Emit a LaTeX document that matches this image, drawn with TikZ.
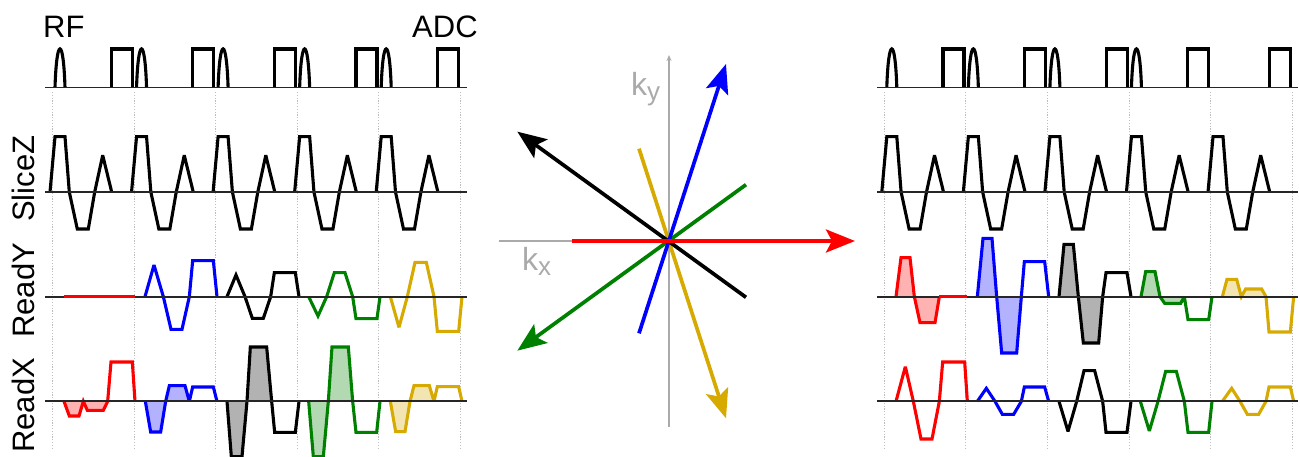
\documentclass[tikz,border=0pt]{standalone}
\usepackage{fontspec}
\setmainfont{Liberation Sans}
\usetikzlibrary{arrows.meta}
\definecolor{wgold}{RGB}{214,170,0}
\definecolor{wgreen}{RGB}{0,128,0}
\definecolor{wblue}{RGB}{0,0,255}
\definecolor{wred}{RGB}{255,0,0}
\definecolor{axisgray}{RGB}{170,170,170}
\definecolor{dotgray}{RGB}{190,190,190}
\tikzset{
  seqline/.style={line width=3.1pt,line join=miter,miter limit=3},
  baseaxis/.style={line width=1.8pt,black!85},
  gridline/.style={line width=0.9pt,dotgray,dash pattern=on 1.2pt off 1.6pt},
  area/.style={opacity=0.3},
  biglabel/.style={inner sep=0pt,font=\fontsize{31}{31}\selectfont},
  kvector/.style={line width=3.7pt,-{Stealth[length=29pt,width=23pt,inset=6pt]}},
  kaxis/.style={line width=1.7pt,axisgray},
  klabel/.style={inner sep=0pt,text=axisgray,font=\fontsize{32}{32}\selectfont},
  zoomL/.style={shift={(0,230)},x=0.33333pt,y=-0.33333pt},
  zoomR/.style={shift={(870,230)},x=0.33333pt,y=-0.33333pt},
  zoomC/.style={shift={(490,40)},x=0.33333pt,y=-0.33333pt},
}
\begin{document}
\begin{tikzpicture}[x=1pt,y=-1pt]
\useasboundingbox (0,0) rectangle (1300,457);
% grids and slice-select blocks
\foreach \p in {0,831.8}{
  \foreach \k in {0,...,5}{
    \draw[gridline] ({52.5+81.6*\k+\p},92) -- ({52.5+81.6*\k+\p},450);
  }
  \foreach \k in {0,...,4}{
    \begin{scope}[shift={({81.55*\k+\p},0)}]
      \draw[seqline] (50,192) -- (55,136.7) -- (65,136.7) -- (69.3,192) -- (77.3,229) -- (88.3,229) -- (94.7,192) -- (102.7,155.3) -- (111.7,192);
    \end{scope}
  }
}
% RF pulses: five on the left, four on the right
\foreach \k in {0,...,4}{
  \draw[seqline] ({55+81.55*\k},87.5) .. controls ({56.6+81.55*\k},36) and ({63.4+81.55*\k},36) .. ({65+81.55*\k},87.5);
}
\foreach \k in {0,...,3}{
  \draw[seqline] ({886.8+81.55*\k},87.5) .. controls ({888.4+81.55*\k},36) and ({895.2+81.55*\k},36) .. ({896.8+81.55*\k},87.5);
}
% ADC boxes
\foreach \s in {111.3,943}{
  \foreach \k in {0,...,4}{
    \draw[seqline] ({\s+81.55*\k},87.5) -- ({\s+81.55*\k},49) -- ({\s+21+81.55*\k},49) -- ({\s+21+81.55*\k},87.5);
  }
}
% Left waveforms
\begin{scope}[zoomL]
\fill[wred,area] (192,514) -- (208,558) -- (237,558) -- (250,514) -- (262,541) -- (310,541) -- (323,514) -- cycle;
\fill[wblue,area] (436,514) -- (452,606) -- (482,606) -- (497,514) -- (508,467) -- (555,467) -- (568,514) -- cycle;
\fill[black,area] (681,514) -- (694,680) -- (726,680) -- (741,514) -- (751,351) -- (800,351) -- (815,514) -- cycle;
\fill[wgreen,area] (926,514) -- (940,680) -- (970,680) -- (985,514) -- (996,351) -- (1045,351) -- (1058,514) -- cycle;
\fill[wgold,area] (1171,514) -- (1187,605) -- (1215,605) -- (1230,514) -- (1242,467) -- (1288,467) -- (1302,514) -- cycle;
\draw[seqline,wblue] (435,200) -- (462,105) -- (490,200) -- (513,298) -- (546,298) -- (568,200) -- (578,92) -- (640,92) -- (651,200);
\draw[seqline,black] (681,200) -- (708,135) -- (735,200) -- (757,265) -- (790,265) -- (812,200) -- (823,128) -- (886,128) -- (897,200);
\draw[seqline,wgreen] (926,200) -- (954,258) -- (980,200) -- (1003,128) -- (1035,128) -- (1058,200) -- (1068,266) -- (1131,266) -- (1140,200);
\draw[seqline,wgold] (1171,200) -- (1197,292) -- (1222,200) -- (1245,97) -- (1279,97) -- (1302,200) -- (1312,304) -- (1376,304) -- (1386,200);
\draw[seqline,wred] (192,514) -- (208,558) -- (237,558) -- (250,514) -- (262,541) -- (310,541) -- (323,514) -- (333,396) -- (397,396) -- (405,514);
\draw[seqline,wblue] (436,514) -- (452,606) -- (482,606) -- (497,514) -- (508,467) -- (555,467) -- (568,514) -- (578,471) -- (640,471) -- (651,514);
\draw[seqline,black] (681,514) -- (694,680) -- (726,680) -- (741,514) -- (751,351) -- (800,351) -- (815,514) -- (824,607) -- (886,607) -- (897,514);
\draw[seqline,wgreen] (926,514) -- (940,680) -- (970,680) -- (985,514) -- (996,351) -- (1045,351) -- (1058,514) -- (1068,607) -- (1130,607) -- (1140,514);
\draw[seqline,wgold] (1171,514) -- (1187,605) -- (1215,605) -- (1230,514) -- (1242,467) -- (1288,467) -- (1302,514) -- (1312,470) -- (1376,470) -- (1386,514);
\end{scope}
% Right waveforms
\begin{scope}[zoomR]
\fill[wred,area] (78,200) -- (93,83) -- (120,83) -- (133,200) -- (150,278) -- (195,278) -- (208,200) -- cycle;
\fill[wblue,area] (322,200) -- (339,25) -- (366,25) -- (380,200) -- (395,369) -- (440,369) -- (454,200) -- cycle;
\fill[black,area] (567,200) -- (582,43) -- (610,43) -- (625,200) -- (640,339) -- (686,339) -- (698,200) -- cycle;
\fill[wgreen,area] (813,200) -- (827,125) -- (855,125) -- (870,200) -- (884,220) -- (932,220) -- (943,200) -- cycle;
\fill[wgold,area] (1057,200) -- (1071,148) -- (1100,148) -- (1114,200) -- (1127,177) -- (1175,177) -- (1188,200) -- cycle;
\draw[seqline,wred] (78,200) -- (93,83) -- (120,83) -- (133,200) -- (150,278) -- (195,278) -- (208,200);
\draw[seqline,wblue] (322,200) -- (339,25) -- (366,25) -- (380,200) -- (395,369) -- (440,369) -- (454,200) -- (463,95) -- (524,95) -- (536,200);
\draw[seqline,black] (567,200) -- (582,43) -- (610,43) -- (625,200) -- (640,339) -- (686,339) -- (698,200) -- (708,128) -- (771,128) -- (783,200);
\draw[seqline,wgreen] (813,200) -- (827,125) -- (855,125) -- (870,200) -- (884,220) -- (932,220) -- (943,200) -- (954,269) -- (1016,269) -- (1026,200);
\draw[seqline,wgold] (1057,200) -- (1071,148) -- (1100,148) -- (1114,200) -- (1127,177) -- (1175,177) -- (1188,200) -- (1197,306) -- (1261,306) -- (1271,200);
\draw[seqline,wred] (78,514) -- (106,410) -- (130,514) -- (153,627) -- (186,627) -- (208,514) -- (218,396) -- (284,396) -- (292,514);
\draw[seqline,wblue] (322,514) -- (349,475) -- (375,514) -- (397,553) -- (431,553) -- (454,514) -- (463,471) -- (524,471) -- (536,514);
\draw[seqline,black] (567,514) -- (594,604) -- (620,514) -- (642,422) -- (674,422) -- (698,514) -- (708,607) -- (771,607) -- (783,514);
\draw[seqline,wgreen] (811,514) -- (838,603) -- (864,514) -- (887,424) -- (919,424) -- (943,514) -- (954,607) -- (1016,607) -- (1026,514);
\draw[seqline,wgold] (1057,514) -- (1085,475) -- (1110,514) -- (1132,553) -- (1166,553) -- (1188,514) -- (1197,471) -- (1261,471) -- (1271,514);
\end{scope}
% Baselines
\foreach \y in {87.5,192,296.7,401}{
  \draw[baseaxis] (45,\y) -- (467,\y);
  \draw[baseaxis] (877,\y) -- (1298,\y);
}
% Flat red gradients
\begin{scope}[zoomL]
\draw[seqline,wred] (192,200) -- (404,200);
\end{scope}
\begin{scope}[zoomR]
\draw[seqline,wred] (208,200) -- (290,200);
\end{scope}
% k-space
\begin{scope}[zoomC]
\coordinate (kc) at (537,603);
\coordinate (axW) at (27,603);
\coordinate (axN) at (537,45);
\coordinate (axS) at (537,1160);
\coordinate (redS) at (245,603);   \coordinate (redT) at (1095,603);
\coordinate (blueS) at (447,880);  \coordinate (blueT) at (708,72);
\coordinate (goldS) at (447,326);  \coordinate (goldT) at (708,1135);
\coordinate (blackS) at (768,772); \coordinate (blackT) at (82,275);
\coordinate (greenS) at (768,434); \coordinate (greenT) at (82,932);
\end{scope}
\draw[kaxis] (axW) -- (kc);
\draw[kaxis,-{Stealth[length=6pt,width=5pt]}] (axS) -- (axN);
\draw[kvector,wgold] (goldS) -- (goldT);
\draw[kvector,black] (blackS) -- (blackT);
\draw[kvector,wgreen] (greenS) -- (greenT);
\draw[kvector,wblue] (blueS) -- (blueT);
\draw[kvector,wred] (redS) -- (redT);
% Labels
\node[biglabel,anchor=base west] (rf) at (43,38) {RF};
\node[biglabel,anchor=base west] (adc) at (412,38) {ADC};
\node[biglabel,rotate=90,anchor=base west] (slicez) at (34,222) {SliceZ};
\node[biglabel,rotate=90,anchor=base west] (ready) at (34,338) {ReadY};
\node[biglabel,rotate=90,anchor=base west] (readx) at (34,453) {ReadX};
\node[klabel,anchor=base west] (kx) at (522,270) {k\raisebox{-5pt}{\fontsize{26}{26}\selectfont x}};
\node[klabel,anchor=base west] (ky) at (631,96) {k\raisebox{-5pt}{\fontsize{26}{26}\selectfont y}};
\end{tikzpicture}
\end{document}
